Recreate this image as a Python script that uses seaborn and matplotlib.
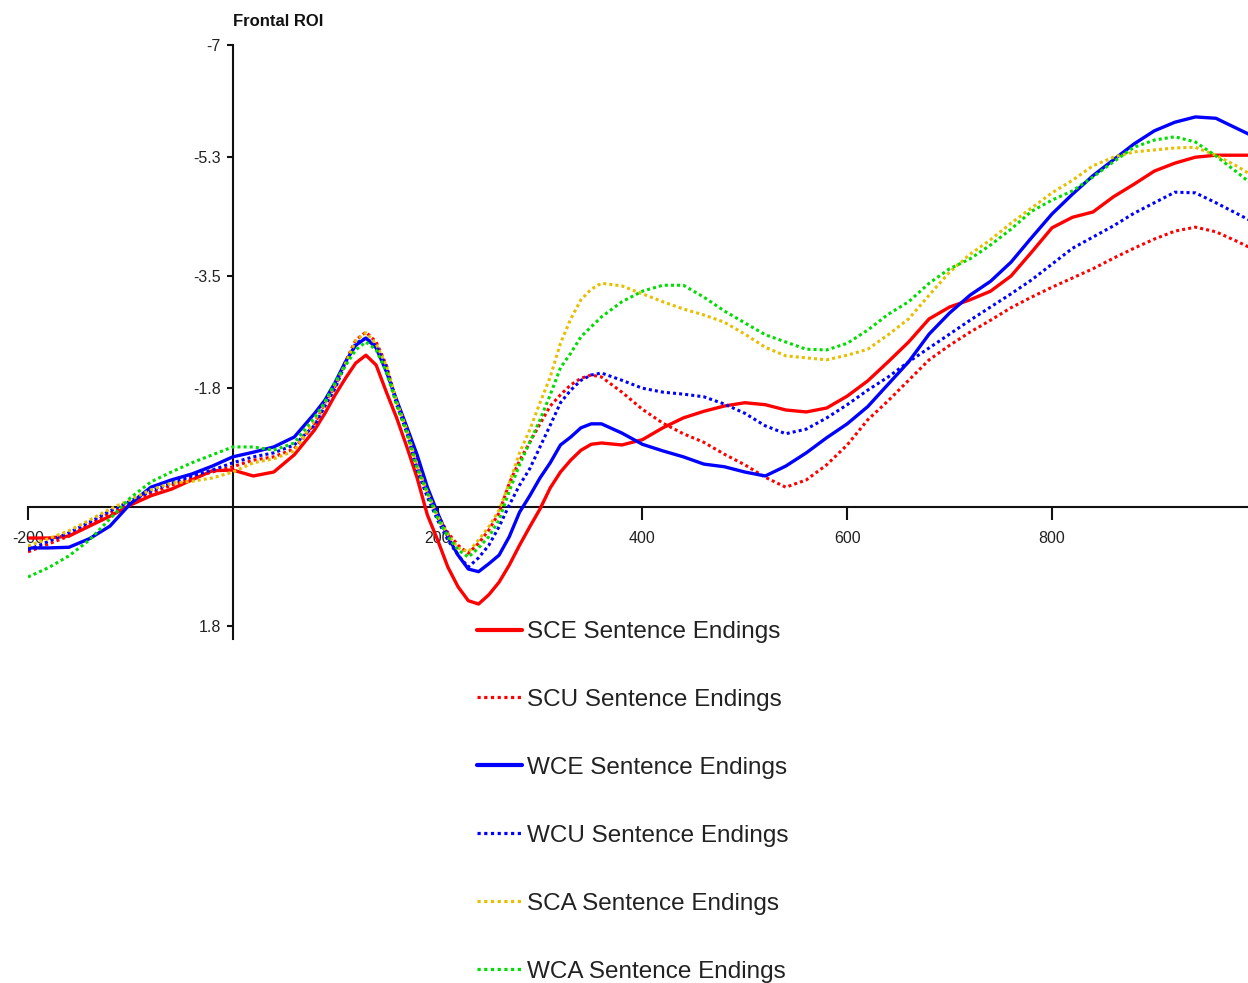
import numpy as np
import pandas as pd
import matplotlib
matplotlib.use("Agg")
import matplotlib.pyplot as plt
import seaborn as sns
from matplotlib.lines import Line2D

# Time (ms) and grand-average amplitude (microvolts) per condition, frontal ROI
times = [-200, -180, -160, -140, -120, -100, -80, -60, -40, -20,
         0, 20, 40, 60, 80,
         90, 100, 110, 120, 130, 140, 150,
         160, 170, 180, 190, 200, 210, 220,
         230, 240, 250, 260, 270, 280, 290,
         300, 310, 320, 330, 340, 350, 360,
         380, 400, 420, 440, 460, 480, 500, 520, 540, 560,
         580, 600, 620, 640, 660, 680, 700, 720, 740, 760,
         780, 800, 820, 840, 860, 880, 900, 920, 940, 960,
         980, 1000]

sce = [0.47, 0.47, 0.44, 0.29, 0.14, -0.03, -0.17, -0.27, -0.41, -0.55,
       -0.56, -0.47, -0.53, -0.79, -1.17,
       -1.42, -1.70, -1.95, -2.18, -2.30, -2.15, -1.74,
       -1.35, -0.91, -0.44, 0.12, 0.50, 0.91, 1.21,
       1.42, 1.47, 1.33, 1.14, 0.88, 0.58, 0.30,
       0.03, -0.29, -0.53, -0.71, -0.86, -0.95, -0.97,
       -0.94, -1.02, -1.20, -1.35, -1.45, -1.53, -1.58, -1.55, -1.47, -1.44,
       -1.50, -1.68, -1.91, -2.20, -2.50, -2.85, -3.03, -3.14, -3.27, -3.50,
       -3.86, -4.23, -4.39, -4.47, -4.70, -4.89, -5.09, -5.21, -5.30, -5.33,
       -5.33, -5.33]

scu = [0.68, 0.56, 0.44, 0.26, 0.09, -0.05, -0.21, -0.33, -0.44, -0.53,
       -0.61, -0.71, -0.76, -0.88, -1.27,
       -1.58, -1.83, -2.20, -2.53, -2.65, -2.50, -2.15,
       -1.58, -1.17, -0.64, -0.23, 0.12, 0.39, 0.58,
       0.70, 0.55, 0.35, 0.09, -0.36, -0.70, -0.98,
       -1.26, -1.53, -1.70, -1.85, -1.95, -2.00, -1.97,
       -1.74, -1.48, -1.27, -1.11, -0.98, -0.80, -0.64, -0.45, -0.30, -0.41,
       -0.64, -0.94, -1.32, -1.61, -1.92, -2.23, -2.45, -2.65, -2.83, -3.02,
       -3.18, -3.33, -3.47, -3.61, -3.77, -3.92, -4.06, -4.18, -4.24, -4.17,
       -4.03, -3.88]

wce = [0.62, 0.62, 0.61, 0.48, 0.29, -0.05, -0.30, -0.41, -0.50, -0.62,
       -0.76, -0.83, -0.91, -1.06, -1.42,
       -1.62, -1.89, -2.20, -2.45, -2.56, -2.41, -2.05,
       -1.62, -1.21, -0.79, -0.30, 0.09, 0.45, 0.73,
       0.94, 0.98, 0.86, 0.73, 0.45, 0.08, -0.17,
       -0.44, -0.67, -0.94, -1.06, -1.20, -1.26, -1.26,
       -1.12, -0.95, -0.85, -0.76, -0.65, -0.61, -0.53, -0.47, -0.62, -0.82,
       -1.05, -1.26, -1.52, -1.86, -2.20, -2.62, -2.94, -3.21, -3.42, -3.71,
       -4.08, -4.44, -4.74, -5.02, -5.26, -5.50, -5.70, -5.83, -5.91, -5.89,
       -5.74, -5.59]

wcu = [0.65, 0.52, 0.39, 0.23, 0.06, -0.09, -0.24, -0.36, -0.47, -0.56,
       -0.67, -0.76, -0.82, -0.94, -1.24,
       -1.53, -1.80, -2.17, -2.48, -2.56, -2.44, -2.12,
       -1.55, -1.12, -0.56, -0.15, 0.20, 0.50, 0.73,
       0.91, 0.77, 0.58, 0.30, -0.03, -0.33, -0.58,
       -0.91, -1.24, -1.58, -1.77, -1.92, -2.00, -2.03,
       -1.92, -1.80, -1.74, -1.71, -1.67, -1.56, -1.42, -1.23, -1.11, -1.18,
       -1.35, -1.55, -1.77, -1.97, -2.20, -2.41, -2.62, -2.83, -3.03, -3.23,
       -3.44, -3.68, -3.92, -4.09, -4.26, -4.45, -4.61, -4.77, -4.76, -4.61,
       -4.45, -4.29]

sca = [0.59, 0.48, 0.36, 0.20, 0.03, -0.11, -0.26, -0.36, -0.39, -0.44,
       -0.53, -0.67, -0.73, -0.85, -1.32,
       -1.58, -1.86, -2.17, -2.52, -2.64, -2.47, -2.14,
       -1.59, -1.17, -0.62, -0.23, 0.14, 0.42, 0.62,
       0.68, 0.50, 0.30, 0.05, -0.36, -0.82, -1.17,
       -1.58, -1.97, -2.48, -2.85, -3.14, -3.30, -3.39,
       -3.35, -3.23, -3.11, -3.00, -2.91, -2.80, -2.62, -2.42, -2.29, -2.26,
       -2.23, -2.30, -2.39, -2.61, -2.85, -3.21, -3.56, -3.83, -4.05, -4.30,
       -4.53, -4.76, -4.95, -5.17, -5.30, -5.38, -5.41, -5.44, -5.45, -5.33,
       -5.17, -4.98]

wca = [1.06, 0.92, 0.74, 0.50, 0.18, -0.14, -0.38, -0.53, -0.67, -0.79,
       -0.91, -0.91, -0.86, -0.97, -1.36,
       -1.59, -1.89, -2.14, -2.38, -2.50, -2.38, -2.05,
       -1.55, -1.12, -0.59, -0.21, 0.17, 0.45, 0.65,
       0.76, 0.62, 0.45, 0.20, -0.24, -0.64, -0.98,
       -1.32, -1.70, -2.11, -2.33, -2.58, -2.73, -2.88,
       -3.11, -3.27, -3.36, -3.36, -3.18, -2.97, -2.79, -2.61, -2.50, -2.39,
       -2.38, -2.48, -2.68, -2.92, -3.11, -3.39, -3.61, -3.76, -3.97, -4.21,
       -4.48, -4.65, -4.79, -5.00, -5.23, -5.45, -5.56, -5.61, -5.53, -5.32,
       -5.08, -4.83]

conditions = ["SCE Sentence Endings", "SCU Sentence Endings",
              "WCE Sentence Endings", "WCU Sentence Endings",
              "SCA Sentence Endings", "WCA Sentence Endings"]
series = [sce, scu, wce, wcu, sca, wca]

x_ticks = [-200, 200, 400, 600, 800]
y_ticks = [-7, -5.3, -3.5, -1.8, 1.8]
y_tick_labels = ["-7", "-5.3", "-3.5", "-1.8", "1.8"]

colors = ["#FF0000", "#FF0000", "#0000FF", "#0000FF", "#E6BF00", "#00DD00"]
dotted = [False, True, False, True, True, True]

sns.set_theme(style="white")
plt.rcParams["font.family"] = ["Liberation Sans", "DejaVu Sans"]

W, H = 1248, 983
fig = plt.figure(figsize=(W / 100, H / 100), dpi=100)
ax = fig.add_axes([28 / W, 1 - 639 / H, 1 - 28 / W, 594 / H])

df = pd.concat(
    [pd.DataFrame({"time": times, "amplitude": vals, "condition": name})
     for name, vals in zip(conditions, series)],
    ignore_index=True,
)

for name, col, dot in zip(conditions, colors, dotted):
    sub = df[df["condition"] == name]
    ls = (0, (1, 1)) if dot else "-"
    lw = 2.2 if dot else 2.4
    sns.lineplot(data=sub, x="time", y="amplitude", color=col, linewidth=lw,
                 linestyle=ls, ax=ax, estimator=None, sort=False, legend=False,
                 solid_capstyle="round", solid_joinstyle="round", zorder=2)

ax.set_xlim(-200, 991.4)
ax.set_ylim(2.0, -7)
ax.set_xlabel("")
ax.set_ylabel("")

for side in ["top", "right"]:
    ax.spines[side].set_visible(False)
ax.spines["left"].set_position(("data", 0))
ax.spines["bottom"].set_position(("data", 0))
for side in ["left", "bottom"]:
    ax.spines[side].set_color("#111111")
    ax.spines[side].set_linewidth(1.5)
    ax.spines[side].set_zorder(1)

ax.set_xticks(x_ticks)
ax.set_xticklabels([str(v) for v in x_ticks])
ax.set_yticks(y_ticks)
ax.set_yticklabels(y_tick_labels)
ax.tick_params(axis="x", direction="out", length=9, width=1.5, pad=8,
               labelsize=11.5, colors="#111111", labelcolor="#222222",
               bottom=True)
ax.tick_params(axis="y", direction="out", length=4.5, width=1.5, pad=4,
               labelsize=11.5, colors="#111111", labelcolor="#222222",
               left=True)
ax.grid(False)
ax.set_facecolor("white")

fig.text(233 / W, 1 - 22 / H, "Frontal ROI", fontsize=12, fontweight="bold",
         ha="left", va="center", color="#111111")

handles = [Line2D([0], [0], color=c, linewidth=(2.3 if d else 3.0),
                  linestyle=((0, (1, 1.1)) if d else "-"))
           for c, d in zip(colors, dotted)]
fig.legend(handles, conditions, loc="upper left",
           bbox_to_anchor=(477 / W, 1 - 621 / H), frameon=False,
           fontsize=17.5, handlelength=1.85, handletextpad=0.2,
           labelspacing=1.89, borderpad=0, borderaxespad=0,
           labelcolor="#222222")

fig.savefig("out.png", dpi=100, facecolor="white")
